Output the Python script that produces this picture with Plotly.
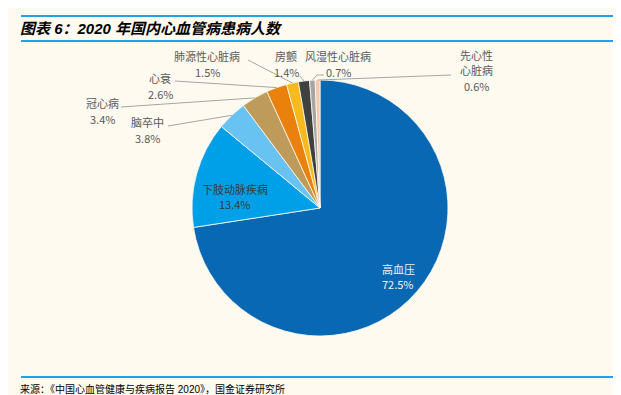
import math
import plotly.graph_objects as go

W, H = 621, 395

# ---- data ----
categories = ["高血压", "下肢动脉疾病", "脑卒中", "冠心病", "心衰",
              "肺源性心脏病", "房颤", "风湿性心脏病", "先心性心脏病"]
values = [72.5, 13.4, 3.8, 3.4, 2.6, 1.5, 1.4, 0.7, 0.6]
colors = ["#0868B4", "#00A0E9", "#68C2F2", "#BE9B5A", "#E9810C",
          "#F7BA1C", "#404040", "#A5A5A5", "#F6C9AB"]

title_text = "图表 6：2020 年国内心血管病患病人数"
source_text = "来源：《中国心血管健康与疾病报告 2020》，国金证券研究所"

BG = "#FEFAF0"
LINE_BLUE = "#1FA2E8"
LABEL_GRAY = "#595959"
FONT = "Noto Sans CJK SC, Liberation Sans, sans-serif"

# pie geometry (pixels)
CX, CY, R = 312, 200, 128

def px(x):
    return x / W

def py(y):
    return 1 - y / H

fig = go.Figure()
fig.add_trace(go.Pie(
    labels=categories, values=values, sort=False, direction="clockwise",
    rotation=0, textinfo="none", hoverinfo="label+percent",
    marker=dict(colors=colors, line=dict(color=BG, width=0.8)),
    domain=dict(x=[px(CX - R), px(CX + R)], y=[py(CY + R), py(CY - R)]),
    showlegend=False,
))

# anchors at mid-angle on the rim, computed from data
total = sum(values)
anchors = {}
cum = 0.0
for c, v in zip(categories, values):
    mid = (cum + v / 2) / total * 2 * math.pi
    anchors[c] = (CX + R * math.sin(mid), CY - R * math.cos(mid))
    cum += v

# label layout: (name lines, name y positions, value y, x center, leader end points)
layout_spec = {
    "肺源性心脏病": (["肺源性心脏病"], [48], 64, 199, [(240, 52)]),
    "房颤": (["房颤"], [48], 64, 278, [(292, 68)]),
    "风湿性心脏病": (["风湿性心脏病"], [48], 64, 330, [(309, 67), (316, 67)]),
    "先心性心脏病": (["先心性", "心脏病"], [47, 62], 78, 468, [(443, 67)]),
    "心衰": (["心衰"], [70], 86, 152, [(167, 73)]),
    "冠心病": (["冠心病"], [95], 111, 94, [(113, 99)]),
    "脑卒中": (["脑卒中"], [114], 130, 139, [(160, 118)]),
}

shapes = []
annotations = []

def label(text, x, y, col):
    annotations.append(dict(text=text, x=px(x), y=py(y), xref="paper", yref="paper",
                            showarrow=False, xanchor="center", yanchor="middle",
                            font=dict(size=11, color=col, family=FONT)))

for c, v in zip(categories, values):
    if c in layout_spec:
        names, name_ys, vy, xc, path = layout_spec[c]
        pts = [anchors[c]] + path
        for (x0, y0), (x1, y1) in zip(pts[:-1], pts[1:]):
            shapes.append(dict(type="line", xref="paper", yref="paper",
                               x0=px(x0), y0=py(y0), x1=px(x1), y1=py(y1),
                               line=dict(color="#A6A6A6", width=1)))
        for nm, ny in zip(names, name_ys):
            label(nm, xc, ny, LABEL_GRAY)
        label(f"{v}%", xc, vy, LABEL_GRAY)

# inside labels
inside = {"下肢动脉疾病": (227, 181, 196, "#3A3A3A"), "高血压": (390, 261, 276, "#EEF2F6")}
for c, v in zip(categories, values):
    if c in inside:
        xc, ny, vy, col = inside[c]
        label(c, xc, ny, col)
        label(f"{v}%", xc, vy, col)

# title and source
annotations.append(dict(text=f"<b><i>{title_text}</i></b>", x=px(10), y=py(21),
                        xref="paper", yref="paper", showarrow=False,
                        xanchor="left", yanchor="middle",
                        font=dict(size=15, color="#000000",
                                  family="Liberation Sans, Noto Sans CJK SC, sans-serif")))
annotations.append(dict(text=source_text, x=px(10), y=py(381),
                        xref="paper", yref="paper", showarrow=False,
                        xanchor="left", yanchor="middle",
                        font=dict(size=10, color="#000000",
                                  family="Liberation Sans, Noto Sans CJK SC, sans-serif")))

for yy in (8, 33, 369):
    shapes.append(dict(type="line", xref="paper", yref="paper",
                       x0=px(13), x1=1, y0=py(yy), y1=py(yy),
                       line=dict(color=LINE_BLUE, width=2)))

fig.update_layout(
    width=W, height=H, margin=dict(l=0, r=0, t=0, b=0),
    paper_bgcolor=BG, plot_bgcolor=BG,
    shapes=shapes, annotations=annotations,
)

fig.write_html("out.html")
